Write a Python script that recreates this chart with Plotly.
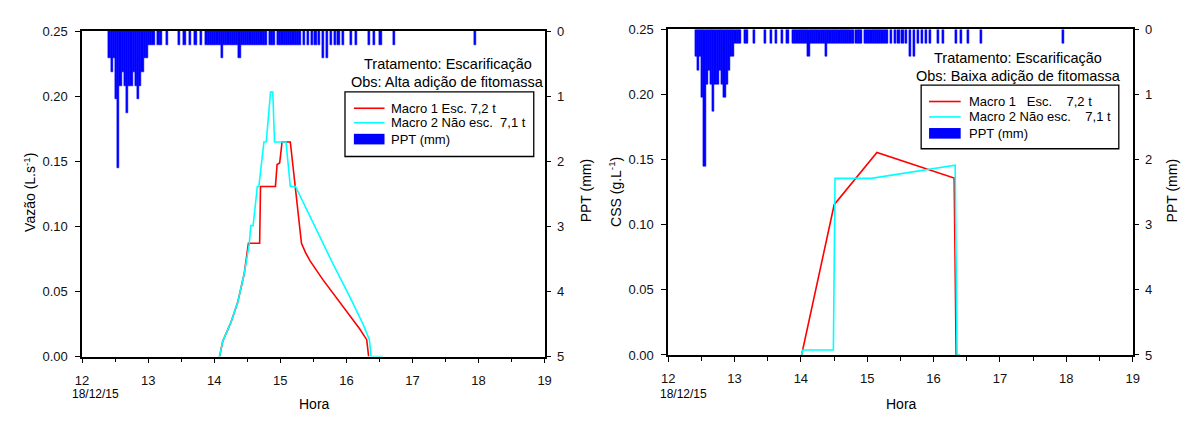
import plotly.graph_objects as go

W, H = 1194, 421
FONT = "Liberation Sans, Arial, sans-serif"

# Rainfall, 2-minute totals (mm); bar centres in minutes after 12:00 on 18/12/15
ppt_min = [25, 27, 29, 31, 33, 35, 37, 39, 41, 43, 45, 47, 49, 51, 53, 55, 57, 59, 61, 63, 65,
           69.5, 71.5, 77.5, 88, 93, 98, 103, 108,
           113, 115, 117, 119, 121, 123, 125, 127, 129, 131, 133, 135, 137, 139,
           141, 143,
           145, 147, 149, 151, 153, 155, 157, 159, 161, 163, 165, 167,
           170.5, 172.5, 174.5,
           178, 180, 182, 184, 186, 188, 190, 192, 194, 196, 198,
           201.5, 205, 208.5, 212, 215.5,
           218.5, 222.5,
           226, 229.5, 233, 237,
           244, 248.5,
           260.5, 265, 271,
           283,
           357]
ppt_mm = [0.42, 0.63, 0.42, 1.05, 2.10, 0.84, 0.63, 0.84, 1.26, 0.84, 0.84, 0.63, 0.84, 1.05, 0.84,
          0.63, 0.42, 0.42, 0.21, 0.21, 0.21,
          0.21, 0.21, 0.21, 0.21, 0.21, 0.21, 0.21, 0.21,
          0.21, 0.21, 0.21, 0.21, 0.21, 0.21, 0.21, 0.42, 0.21, 0.21, 0.21, 0.21, 0.21, 0.21,
          0.21, 0.42,
          0.21, 0.21, 0.21, 0.21, 0.21, 0.21, 0.21, 0.21, 0.21, 0.21, 0.21, 0.21,
          0.21, 0.21, 0.21,
          0.21, 0.21, 0.21, 0.21, 0.21, 0.21, 0.21, 0.21, 0.21, 0.21, 0.21,
          0.21, 0.21, 0.21, 0.21, 0.21,
          0.42, 0.42,
          0.21, 0.21, 0.21, 0.21,
          0.21, 0.21,
          0.21, 0.21, 0.21,
          0.21,
          0.21]

# Runoff (L/s) - Macro 1 (scarified) and Macro 2 (not scarified)
q1_hora = [14.08, 14.128, 14.254, 14.353, 14.453, 14.517, 14.687, 14.70, 14.926, 14.951, 14.99,
           15.026, 15.151, 15.32, 15.38, 15.45, 15.649, 15.849, 16.048, 16.197, 16.307, 16.337]
q1_vazao = [0.0, 0.0117, 0.0265, 0.0413, 0.0636, 0.087, 0.087, 0.1307, 0.1307, 0.1475, 0.1487,
            0.1648, 0.1648, 0.087, 0.080, 0.0735, 0.0587, 0.045, 0.0315, 0.0216, 0.013, 0.0]
q2_hora = [14.06, 14.08, 14.128, 14.254, 14.353, 14.453, 14.528, 14.553, 14.588, 14.652, 14.675,
           14.752, 14.787, 14.852, 14.886, 14.912, 15.086, 15.151, 15.23, 15.549, 15.799,
           16.048, 16.248, 16.348, 16.372, 16.55]
q2_vazao = [0.0, 0.0, 0.0117, 0.0265, 0.0413, 0.0636, 0.0858, 0.1006, 0.1006, 0.1307, 0.1307,
            0.1648, 0.165, 0.2031, 0.2031, 0.1648, 0.1648, 0.1307, 0.1307, 0.0969, 0.071,
            0.0463, 0.0253, 0.013, 0.0, 0.0]

# Suspended sediment concentration (g/L)
c1_hora = [14.011, 14.502, 15.146, 16.31, 16.34]
c1_css = [0.0, 0.1154, 0.1556, 0.1359, 0.0]
c2_hora = [14.011, 14.03, 14.49, 14.515, 15.06, 16.325, 16.354, 16.40]
c2_css = [0.0, 0.0038, 0.0038, 0.1356, 0.1356, 0.1458, 0.0, 0.0]

hour_ticks = [12, 13, 14, 15, 16, 17, 18, 19]
left_ticks = [0.0, 0.05, 0.10, 0.15, 0.20, 0.25]
ppt_ticks = [0, 1, 2, 3, 4, 5]

RED, CYAN, BLUE = "#FF0000", "#00FFFF", "#0000FF"


def px(x):
    return x / W


def py(y):
    return 1 - y / H


fig = go.Figure()

ppt_hora = [12 + m / 60 for m in ppt_min]
for xa, ya in (("x", "y2"), ("x2", "y4")):
    fig.add_trace(go.Bar(x=ppt_hora, y=ppt_mm, width=2 / 60, xaxis=xa, yaxis=ya,
                         marker=dict(color=BLUE, line=dict(color=BLUE, width=0.5)),
                         showlegend=False, name="PPT (mm)"))

fig.add_trace(go.Scatter(x=q1_hora, y=q1_vazao, mode="lines", xaxis="x", yaxis="y",
                         line=dict(color=RED, width=1.6), showlegend=False))
fig.add_trace(go.Scatter(x=q2_hora, y=q2_vazao, mode="lines", xaxis="x", yaxis="y",
                         line=dict(color=CYAN, width=1.6), showlegend=False))
fig.add_trace(go.Scatter(x=c1_hora, y=c1_css, mode="lines", xaxis="x2", yaxis="y3",
                         line=dict(color=RED, width=1.6), showlegend=False))
fig.add_trace(go.Scatter(x=c2_hora, y=c2_css, mode="lines", xaxis="x2", yaxis="y3",
                         line=dict(color=CYAN, width=1.6), showlegend=False))

tickfont = dict(family=FONT, size=13, color="#111")
axis_common = dict(showline=True, linecolor="#000", linewidth=1.5, showgrid=False,
                   zeroline=False, ticks="outside", ticklen=5, tickwidth=1,
                   tickcolor="#000", tickfont=tickfont)


def xaxis(domain, anchor):
    return dict(axis_common, domain=domain, anchor=anchor, range=[12, 19],
                tickvals=hour_ticks, mirror=True, ticklabelstandoff=6,
                minor=dict(tick0=12, dtick=0.5, ticks="outside", ticklen=4,
                           tickcolor="#000"))


def yaxis(domain, anchor, ticks):
    return dict(axis_common, domain=domain, anchor=anchor, range=[0, 0.25],
                tickvals=ticks, tickformat=".2f", mirror=True, ticklabelstandoff=5)


def pptaxis(overlay, anchor):
    return dict(axis_common, overlaying=overlay, anchor=anchor, side="right",
                range=[5, 0], tickvals=ppt_ticks, ticklabelstandoff=3)


L = (76, 544, 25, 362.5)
R = (669, 1139, 23.3, 360.8)

fig.update_layout(
    width=W, height=H,
    margin=dict(l=0, r=0, t=0, b=0),
    paper_bgcolor="white", plot_bgcolor="white",
    barmode="overlay", bargap=0,
    font=dict(family=FONT, size=12, color="#000"),
    xaxis=xaxis([px(L[0]), px(L[1])], "y"),
    yaxis=yaxis([py(L[3]), py(L[2])], "x", left_ticks),
    yaxis2=pptaxis("y", "x"),
    xaxis2=xaxis([px(R[0]), px(R[1])], "y3"),
    yaxis3=yaxis([py(R[3]), py(R[2])], "x2", left_ticks),
    yaxis4=pptaxis("y3", "x2"),
)

ann = []
shapes = []


def text(x, y, s, size=12, angle=0, xanchor="center"):
    ann.append(dict(x=px(x), y=py(y), xref="paper", yref="paper", text=s,
                    showarrow=False, xanchor=xanchor, yanchor="middle",
                    textangle=angle, font=dict(family=FONT, size=size, color="#000")))


# axis titles and date labels
text(23, 192, "Vazão (L.s<sup>-1</sup>)", 14, -90)
text(586, 190, "PPT (mm)", 14, -90)
text(615, 192, "CSS (g.L<sup>-1</sup>)", 14, -90)
text(1179, 190, "PPT (mm)", 14, -90)
text(311, 412, "Hora", 14)
text(905, 412, "Hora", 14)
text(90, 401, "18/12/15", 12)
text(685, 401, "18/12/15", 12)

# treatment notes
text(446, 59, "Tratamento: Escarificação", 14.5)
text(446, 78, "Obs: Alta adição de fitomassa", 14.5)
text(1023, 53, "Tratamento: Escarificação", 14.5)
text(1023, 72, "Obs: Baixa adição de fitomassa", 14.5)


def legend_box(x0, x1, y0, y1, sx0, sx1, tx, rows, labels):
    shapes.append(dict(type="rect", xref="paper", yref="paper",
                       x0=px(x0), x1=px(x1), y0=py(y1), y1=py(y0),
                       line=dict(color="#000", width=1.3), fillcolor="white",
                       layer="above"))
    colors = [RED, CYAN]
    for i in range(2):
        shapes.append(dict(type="line", xref="paper", yref="paper",
                           x0=px(sx0), x1=px(sx1), y0=py(rows[i]), y1=py(rows[i]),
                           line=dict(color=colors[i], width=1.6), layer="above"))
    shapes.append(dict(type="rect", xref="paper", yref="paper",
                       x0=px(sx0), x1=px(sx1), y0=py(rows[2] + 5.5), y1=py(rows[2] - 5.5),
                       line=dict(width=0), fillcolor=BLUE, layer="above"))
    for r, lab in zip(rows, labels):
        text(tx, r, lab, 13, xanchor="left")


NB = "\u00a0"
legend_box(342, 533, 88, 155, 351, 382, 387, (105, 120, 137),
           ["Macro 1 Esc. 7,2 t", "Macro 2 Não esc." + NB * 2 + "7,1 t", "PPT (mm)"])
legend_box(925, 1125, 81, 147, 933, 965, 971, (98, 114, 131),
           ["Macro 1" + NB * 3 + "Esc." + NB * 4 + "7,2 t",
            "Macro 2 Não esc." + NB * 4 + "7,1 t", "PPT (mm)"])

fig.update_layout(annotations=ann, shapes=shapes)
fig.write_html("out.html")
